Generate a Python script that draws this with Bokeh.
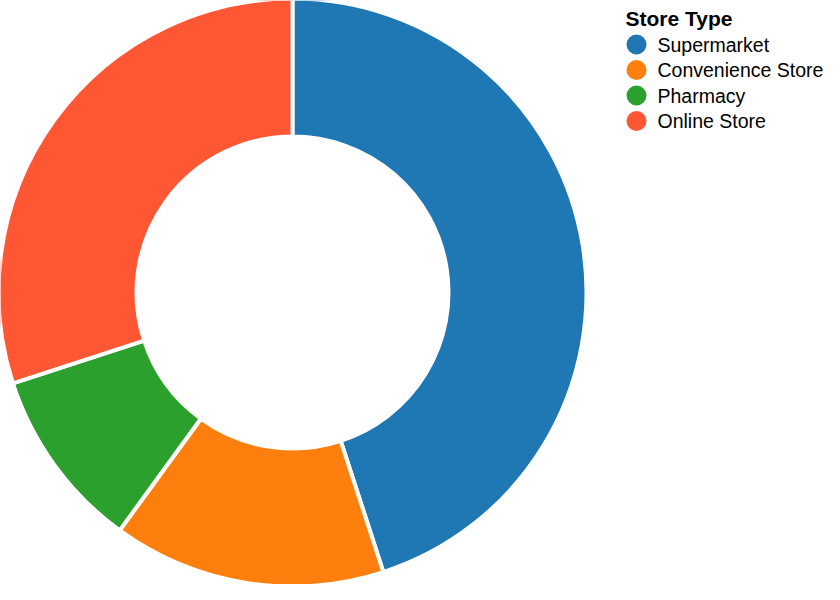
import numpy as np
from bokeh.plotting import figure
from bokeh.models import Range1d, ColumnDataSource
from bokeh.core.properties import value
from bokeh.embed import file_html
from bokeh.resources import INLINE

# ---- data ----
categories = ["Supermarket", "Convenience Store", "Pharmacy", "Online Store"]
shares = [45, 15, 10, 30]
colors = ["#1f77b4", "#ff7f0e", "#2ca02c", "#ff5733"]
legend_title = "Store Type"

W, H = 824, 584
p = figure(width=W, height=H, x_range=Range1d(0, W), y_range=Range1d(0, H),
           output_backend="svg", toolbar_location=None, min_border=0,
           outline_line_color=None, background_fill_color="white",
           border_fill_color="white")
p.axis.visible = False
p.grid.visible = False

vals = np.array(shares, dtype=float)
frac = vals / vals.sum()
cum = np.concatenate([[0], np.cumsum(frac)])
start = np.pi / 2 - cum[:-1] * 2 * np.pi
end = np.pi / 2 - cum[1:] * 2 * np.pi

cx, cy = 292, H - 292
src = ColumnDataSource(dict(x=[cx] * len(categories), y=[cy] * len(categories),
                            start=start, end=end, color=colors, cat=categories))
p.annular_wedge(x="x", y="y", inner_radius=156, outer_radius=294,
                inner_radius_units="screen", outer_radius_units="screen",
                start_angle="start", end_angle="end", direction="clock",
                fill_color="color", line_color="white", line_width=4,
                line_join="round", source=src)

# ---- legend (manual) ----
lx, ly0, dy = 636, H - 44, 25.5
ys = [ly0 - i * dy for i in range(len(categories))]
p.text(x=[625], y=[H - 18], text=[legend_title], text_font=value("Liberation Sans"),
       text_font_size="21px", text_font_style="bold", text_color="#000000",
       text_baseline="alphabetic", text_align="left")
p.scatter(x=[lx] * len(categories), y=ys, size=20, marker="circle",
          fill_color=colors, line_color=None)
p.text(x=[lx + 21] * len(categories), y=ys, text=categories,
       text_font=value("Liberation Sans"), text_font_size="19.5px",
       text_color="#000000", text_baseline="middle", text_align="left")

open("out.html", "w").write(file_html(p, INLINE))
